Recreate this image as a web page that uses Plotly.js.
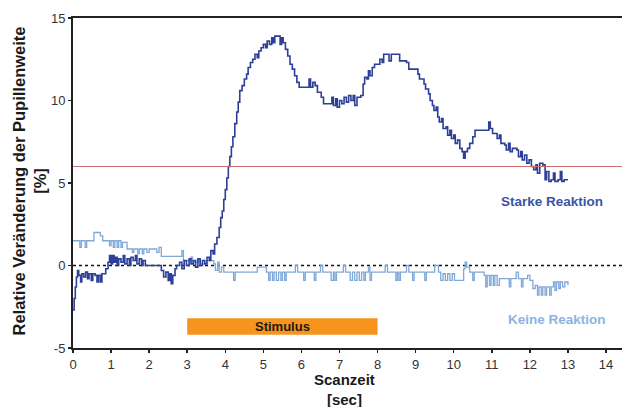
<!DOCTYPE html>
<html>
<head>
<meta charset="utf-8">
<script src="https://cdn.plot.ly/plotly-3.0.1.min.js"></script>
<style>html,body{margin:0;padding:0;background:#fff;}#chart{width:622px;height:407px;}</style>
</head>
<body>
<div id="chart"></div>
<script>
// Starke Reaktion (dark blue) — time [sec], change [%]
const starkeT = [0.00,0.03,0.06,0.09,0.12,0.15,0.20,0.23,0.28,0.33,0.38,0.42,0.48,0.52,0.58,0.63,0.67,0.72,0.76,0.82,0.86,0.92,0.96,1.00,1.04,1.08,1.12,1.16,1.20,1.26,1.32,1.36,1.42,1.48,1.52,1.58,1.64,1.68,1.74,1.80,1.84,1.90,2.00,2.10,2.20,2.32,2.38,2.44,2.50,2.54,2.58,2.62,2.68,2.72,2.80,2.86,2.92,2.98,3.05,3.10,3.16,3.22,3.28,3.34,3.40,3.46,3.52,3.58,3.62,3.68,3.72,3.78,3.84,3.88,3.92,3.96,4.00,4.04,4.08,4.12,4.16,4.20,4.25,4.30,4.34,4.38,4.44,4.50,4.56,4.60,4.66,4.72,4.78,4.84,4.88,4.94,5.00,5.06,5.10,5.16,5.22,5.26,5.30,5.40,5.44,5.48,5.52,5.58,5.64,5.70,5.76,5.82,5.88,5.94,6.20,6.24,6.30,6.36,6.42,6.52,6.58,6.80,6.84,6.90,6.94,7.00,7.06,7.12,7.18,7.24,7.30,7.36,7.40,7.46,7.56,7.62,7.66,7.72,7.76,7.80,7.86,7.92,8.00,8.06,8.12,8.16,8.28,8.30,8.36,8.52,8.58,8.76,8.82,9.06,9.10,9.22,9.26,9.34,9.38,9.44,9.48,9.54,9.58,9.62,9.68,9.72,9.80,9.84,9.90,9.94,10.00,10.04,10.10,10.16,10.22,10.26,10.30,10.36,10.42,10.50,10.56,10.88,10.92,10.96,11.02,11.14,11.20,11.24,11.34,11.38,11.44,11.48,11.54,11.66,11.70,11.76,11.80,11.86,11.92,11.98,12.04,12.10,12.16,12.20,12.26,12.34,12.40,12.44,12.50,12.56,12.62,12.66,12.74,12.80,12.84,12.90,13.00];
const starkeV = [-2.7,-2.0,-1.3,-0.7,-0.3,-0.6,-1.0,-0.5,-0.7,-0.4,-0.8,-0.5,-0.9,-0.5,-0.6,-1.0,-0.6,-1.0,-0.5,-0.5,-0.2,0.2,0.6,0.1,0.6,0.2,0.5,0.0,0.4,0.2,0.6,0.1,0.4,0.0,0.5,0.3,0.6,0.1,0.4,0.0,0.3,0.0,0.0,0.0,0.0,-0.3,-0.7,-0.4,-0.9,-0.5,-1.1,-0.6,-0.2,0.0,0.2,-0.2,0.3,0.0,0.4,0.1,0.3,-0.1,0.4,0.0,0.3,0.1,0.5,0.3,0.9,0.7,1.3,1.7,2.3,2.9,3.3,4.0,4.6,5.3,6.0,6.6,7.2,7.8,8.6,9.3,9.9,10.6,10.9,11.3,11.6,12.0,12.3,12.5,12.8,12.6,13.0,13.2,13.4,13.2,13.6,13.4,13.8,13.5,13.9,13.9,13.4,13.8,13.5,13.1,12.7,12.2,11.9,11.5,11.1,10.8,11.3,10.8,11.1,10.9,10.5,10.2,9.8,10.2,9.7,10.1,9.6,10.0,9.8,10.2,9.9,10.3,10.0,10.3,9.7,10.2,10.3,11.0,11.4,11.3,11.8,11.5,12.0,12.2,12.2,12.5,12.3,12.8,12.8,12.4,12.8,12.8,12.4,12.3,11.9,11.6,11.3,11.0,10.7,10.4,10.0,9.7,9.4,9.6,9.0,8.7,8.9,8.3,8.4,7.9,8.2,7.7,7.9,7.4,7.6,7.1,6.9,6.5,6.9,7.1,7.4,7.8,8.2,8.2,8.7,8.3,8.0,7.7,7.9,7.4,7.3,7.0,7.4,6.9,7.1,7.0,6.6,6.9,6.4,6.7,6.2,6.4,6.0,5.8,6.1,5.6,6.2,6.1,5.2,5.7,5.1,5.2,5.6,5.1,5.2,5.7,5.1,5.2,5.2];

// Keine Reaktion (light blue)
const keineT = [0.00,0.18,0.22,0.32,0.36,0.55,0.72,0.78,0.96,1.00,1.06,1.10,1.16,1.20,1.26,1.30,1.42,1.56,1.60,1.70,1.74,1.82,1.86,1.94,2.00,2.20,2.26,2.32,2.86,2.90,2.94,3.10,3.14,3.30,3.34,3.50,3.70,3.74,3.80,3.84,3.90,3.96,4.22,4.26,4.84,5.08,5.14,5.18,5.24,5.28,5.34,5.40,5.46,5.50,5.56,5.60,5.84,5.90,6.06,6.10,6.34,6.38,6.50,6.56,6.78,6.84,6.88,6.92,7.10,7.16,7.28,7.34,7.40,7.46,7.52,7.58,7.64,7.68,7.76,7.80,7.84,8.20,8.26,8.48,8.52,8.56,8.60,8.76,8.82,8.92,8.96,9.24,9.28,9.50,9.60,9.66,9.72,9.78,9.84,9.90,9.96,10.02,10.26,10.30,10.34,10.42,10.50,10.54,10.80,10.84,10.88,10.94,10.98,11.04,11.08,11.14,11.20,11.46,11.50,11.64,11.70,11.78,11.82,11.94,12.00,12.08,12.14,12.20,12.24,12.30,12.34,12.40,12.44,12.52,12.56,12.62,12.66,12.70,12.76,12.80,12.86,12.92,13.00];
const keineV = [1.5,1.1,1.5,1.1,1.5,2.0,1.8,1.5,1.2,1.5,1.1,1.5,1.1,1.5,1.1,1.4,1.0,0.8,1.0,0.7,1.0,0.7,1.0,0.8,1.0,0.8,1.1,0.55,0.9,0.3,0.3,0.5,0.2,0.4,0.1,0.3,0.1,-0.3,0.2,-0.4,-0.1,-0.4,-0.9,-0.4,-0.1,-0.4,-0.9,-0.4,-0.9,-0.4,-0.9,-0.4,-0.9,-0.4,-0.9,-0.4,0.0,-0.4,-0.9,-0.4,-0.9,-0.4,0.0,-0.4,-0.9,-0.4,-0.9,-0.4,0.0,-0.4,-0.9,-0.4,-0.9,-0.4,-0.9,-0.4,-0.9,-0.4,-0.1,-0.9,-0.4,0.0,-0.4,-0.9,-0.4,-0.9,-0.4,0.0,-0.4,-0.9,-0.4,-0.9,-0.4,0.0,-0.4,-0.9,-0.5,-0.9,-0.5,-0.9,-0.5,-0.9,-0.2,0.2,-0.1,-0.4,-0.9,-0.4,-0.6,-1.3,-0.6,-1.2,-0.6,-1.2,-0.6,-1.2,-0.8,-1.3,-0.8,-0.4,-0.8,-1.3,-0.8,-0.6,-0.9,-1.4,-1.2,-1.8,-1.3,-1.8,-1.3,-1.8,-1.3,-1.8,-1.3,-1.0,-1.5,-1.0,-1.4,-1.0,-1.3,-1.0,-1.2];

const xTicks = [0,1,2,3,4,5,6,7,8,9,10,11,12,13,14];
const yTicks = [-5,0,5,10,15];
const threshold = 6;
const stimulusStart = 3, stimulusEnd = 8;
const stimulusLow = -4.2, stimulusHigh = -3.2;

const font = 'Liberation Sans, Arial, sans-serif';

const traces = [
  {x: keineT, y: keineV, type: 'scatter', mode: 'lines', line: {shape: 'hv', color: '#7fa8d8', width: 1.3}, hoverinfo: 'skip'},
  {x: starkeT, y: starkeV, type: 'scatter', mode: 'lines', line: {shape: 'hv', color: '#2d3f96', width: 1.6}, hoverinfo: 'skip'}
];

const layout = {
  width: 622, height: 407,
  margin: {l: 73, r: 0, t: 18, b: 59},
  paper_bgcolor: '#fff', plot_bgcolor: '#fff',
  showlegend: false,
  font: {family: font, size: 13, color: '#333'},
  xaxis: {
    range: [0, 14.42], tickvals: xTicks, ticktext: xTicks.map(String),
    showgrid: false, zeroline: false, showline: true, linecolor: '#222', linewidth: 2, mirror: true,
    ticks: 'outside', ticklen: 3, tickcolor: '#222', tickwidth: 1.5,
    tickfont: {family: font, size: 13, color: '#333'}
  },
  yaxis: {
    range: [-5, 15], tickvals: yTicks, ticktext: yTicks.map(String),
    showgrid: false, zeroline: false, showline: true, linecolor: '#222', linewidth: 2,
    ticks: 'outside', ticklen: 3, tickcolor: '#222', tickwidth: 1.5,
    tickfont: {family: font, size: 13, color: '#333'}
  },
  shapes: [
    {type: 'line', xref: 'paper', x0: 0, x1: 1, yref: 'y', y0: threshold, y1: threshold, line: {color: '#cc6e6e', width: 1}},
    {type: 'line', xref: 'paper', x0: 0, x1: 1, yref: 'y', y0: 0, y1: 0, line: {color: '#111', width: 1.5, dash: 'dot'}, layer: 'below'},
    {type: 'rect', xref: 'x', yref: 'y', x0: stimulusStart, x1: stimulusEnd, y0: stimulusLow, y1: stimulusHigh, fillcolor: '#f7941d', line: {width: 0}}
  ],
  annotations: [
    {text: '<b>Stimulus</b>', x: (stimulusStart + stimulusEnd) / 2, y: (stimulusLow + stimulusHigh) / 2, xref: 'x', yref: 'y', showarrow: false, font: {family: font, size: 13, color: '#1a1a1a'}},
    {text: '<b>Starke Reaktion</b>', x: 12.58, y: 3.9, xref: 'x', yref: 'y', showarrow: false, font: {family: font, size: 13.5, color: '#3a55a4'}},
    {text: '<b>Keine Reaktion</b>', x: 12.71, y: -3.27, xref: 'x', yref: 'y', showarrow: false, font: {family: font, size: 13.5, color: '#8cb4e0'}},
    {text: '<b>Relative Veränderung der Pupillenweite</b><br><b>[%]</b>', xref: 'paper', yref: 'paper', x: -0.0801, y: 0.5045, xanchor: 'center', yanchor: 'middle', textangle: -90, showarrow: false, font: {family: font, size: 16.5, color: '#1a1a1a'}},
    {text: '<b>Scanzeit</b><br><b>[sec]</b>', xref: 'paper', yref: 'paper', x: 0.495, y: -0.127, xanchor: 'center', yanchor: 'middle', showarrow: false, font: {family: font, size: 15, color: '#1a1a1a'}}
  ]
};

Plotly.newPlot('chart', traces, layout, {staticPlot: true, displayModeBar: false});
</script>
</body>
</html>
